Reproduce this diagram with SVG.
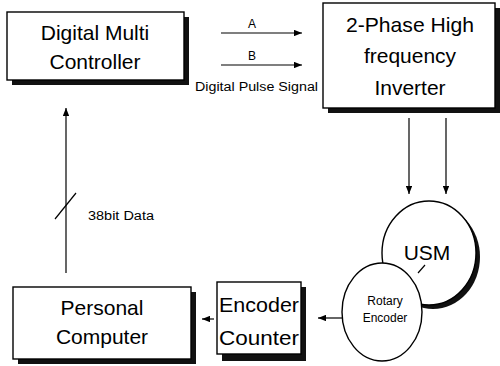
<svg xmlns="http://www.w3.org/2000/svg" width="500" height="366" viewBox="0 0 500 366">
  <style>
    .box { fill: #fff; stroke: #000; stroke-width: 1.4; }
    .shadow { fill: #111; }
    .big { font-family: "Liberation Sans", Arial, sans-serif; font-size: 21px; fill: #000; text-anchor: middle; }
    .small { font-family: "Liberation Sans", Arial, sans-serif; font-size: 12px; fill: #000; }
    .wire { stroke: #000; stroke-width: 1.2; fill: none; }
  </style>
  <defs>
    <marker id="arrow" viewBox="0 0 10 8" refX="10" refY="4" markerWidth="8" markerHeight="6.4" markerUnits="userSpaceOnUse" orient="auto">
      <path d="M0,0 L10,4 L0,8 Z" fill="#000"/>
    </marker>
  </defs>
  <rect width="500" height="366" fill="#fff"/>

  <g id="controller">
    <rect class="shadow" x="12" y="17" width="177" height="68"/>
    <rect class="box" x="7" y="12" width="177" height="68"/>
    <text class="big" x="95" y="40">Digital Multi</text>
    <text class="big" x="95" y="69">Controller</text>
  </g>

  <g id="inverter">
    <rect class="shadow" x="328" y="8" width="172" height="105"/>
    <rect class="box" x="323" y="3" width="172" height="105"/>
    <text class="big" x="410" y="32" textLength="128" lengthAdjust="spacingAndGlyphs">2-Phase High</text>
    <text class="big" x="410" y="63">frequency</text>
    <text class="big" x="410" y="95">Inverter</text>
  </g>

  <g id="usm">
    <ellipse class="shadow" cx="433" cy="257" rx="47" ry="52"/>
    <ellipse class="box" cx="429" cy="253" rx="47" ry="52"/>
    <text class="big" x="427" y="260">USM</text>
  </g>

  <g id="rotary-encoder">
    <ellipse class="box" cx="382" cy="312" rx="40" ry="49"/>
    <text class="small" x="385" y="305" text-anchor="middle">Rotary</text>
    <text class="small" x="385" y="322" text-anchor="middle">Encoder</text>
  </g>

  <g id="encoder-counter">
    <rect class="shadow" x="222" y="287" width="84" height="74"/>
    <rect class="box" x="217" y="282" width="84" height="72"/>
    <text class="big" x="259" y="312" textLength="80" lengthAdjust="spacingAndGlyphs">Encoder</text>
    <text class="big" x="259" y="345" textLength="80" lengthAdjust="spacingAndGlyphs">Counter</text>
  </g>

  <g id="personal-computer">
    <rect class="shadow" x="18" y="292" width="178" height="72"/>
    <rect class="box" x="13" y="287" width="178" height="72"/>
    <text class="big" x="102" y="315">Personal</text>
    <text class="big" x="102" y="344">Computer</text>
  </g>

  <g id="connectors">
    <!-- pulse signals A and B -->
    <line class="wire" x1="221" y1="33" x2="302" y2="33" marker-end="url(#arrow)"/>
    <line class="wire" x1="221" y1="65" x2="302" y2="65" marker-end="url(#arrow)"/>
    <text class="small" x="252" y="28" text-anchor="middle" font-size="11">A</text>
    <text class="small" x="252" y="60" text-anchor="middle" font-size="11">B</text>
    <text class="small" x="195" y="91" font-size="13" textLength="123" lengthAdjust="spacingAndGlyphs">Digital Pulse Signal</text>

    <!-- inverter to motor -->
    <line class="wire" x1="409" y1="118" x2="409" y2="194" marker-end="url(#arrow)"/>
    <line class="wire" x1="446" y1="118" x2="446" y2="194" marker-end="url(#arrow)"/>

    <!-- motor shaft to encoder -->
    <line class="wire" x1="425" y1="265" x2="418" y2="273"/>

    <!-- encoder to counter -->
    <line class="wire" x1="342" y1="318" x2="318" y2="318" marker-end="url(#arrow)"/>

    <!-- counter to computer -->
    <line class="wire" x1="214" y1="319" x2="202" y2="319" marker-end="url(#arrow)"/>

    <!-- computer to controller, 38bit bus -->
    <line class="wire" x1="66" y1="273" x2="66" y2="108" marker-end="url(#arrow)"/>
    <line class="wire" x1="55" y1="219" x2="76" y2="193"/>
    <text class="small" x="88" y="220" font-size="14" textLength="66" lengthAdjust="spacingAndGlyphs">38bit Data</text>
  </g>
</svg>
